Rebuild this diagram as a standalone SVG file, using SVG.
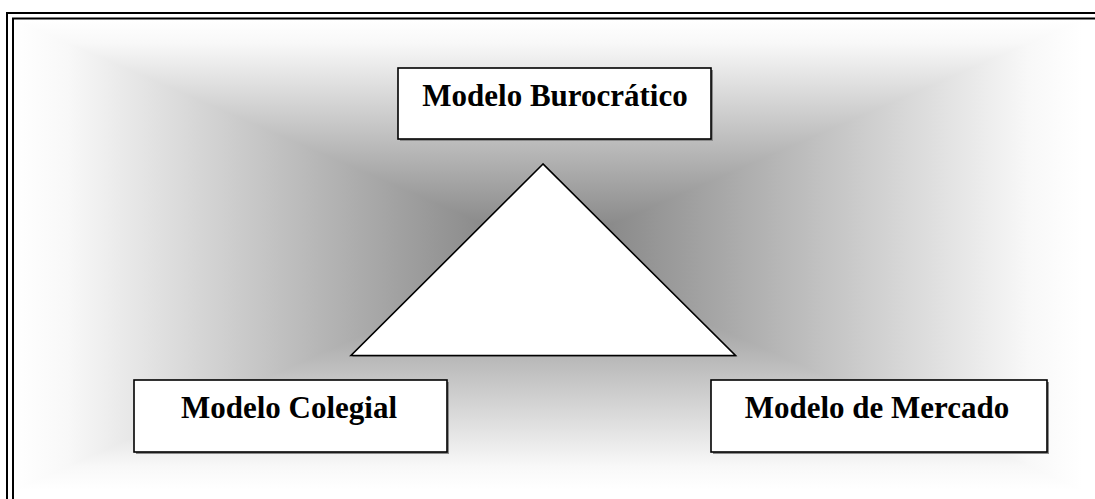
<svg xmlns="http://www.w3.org/2000/svg" width="1095" height="499" viewBox="0 0 1095 499">
  <style>
    .frame { fill: none; stroke: #000; stroke-width: 2; }
    .box { fill: #fff; stroke: #000; stroke-width: 1.6; }
    .shadow { fill: #8a8a8a; }
    .label { font-family: "Liberation Serif", "Times New Roman", serif; font-weight: bold; font-size: 31px; fill: #000; text-anchor: middle; }
    .shade { shape-rendering: crispEdges; }
  </style>
  <defs>
    <!-- rectangular "from centre" shading built from four wedges -->
    <linearGradient id="gTop" gradientUnits="userSpaceOnUse" x1="0" y1="252" x2="0" y2="20">
      <stop offset="0" stop-color="#7a7a7a"/>
      <stop offset="0.9" stop-color="#f8f8f8"/>
      <stop offset="1" stop-color="#ffffff"/>
    </linearGradient>
    <linearGradient id="gBottom" gradientUnits="userSpaceOnUse" x1="0" y1="252" x2="0" y2="490">
      <stop offset="0" stop-color="#7a7a7a"/>
      <stop offset="0.9" stop-color="#f8f8f8"/>
      <stop offset="1" stop-color="#ffffff"/>
    </linearGradient>
    <linearGradient id="gLeft" gradientUnits="userSpaceOnUse" x1="548" y1="0" x2="15" y2="0">
      <stop offset="0" stop-color="#7a7a7a"/>
      <stop offset="0.9" stop-color="#f8f8f8"/>
      <stop offset="1" stop-color="#ffffff"/>
    </linearGradient>
    <linearGradient id="gRight" gradientUnits="userSpaceOnUse" x1="548" y1="0" x2="1082" y2="0">
      <stop offset="0" stop-color="#7a7a7a"/>
      <stop offset="0.9" stop-color="#f8f8f8"/>
      <stop offset="1" stop-color="#ffffff"/>
    </linearGradient>
  </defs>

  <rect x="0" y="0" width="1095" height="499" fill="#fff"/>

  <!-- background shading -->
  <g id="background">
    <polygon class="shade" points="15,20 1082,20 548,252" fill="url(#gTop)"/>
    <polygon class="shade" points="15,490 1082,490 548,252" fill="url(#gBottom)"/>
    <polygon class="shade" points="15,20 15,490 548,252" fill="url(#gLeft)"/>
    <polygon class="shade" points="1082,20 1082,490 548,252" fill="url(#gRight)"/>
  </g>

  <!-- double page frame (open at right and bottom) -->
  <g id="frame">
    <path class="frame" d="M7,499 V13 H1095"/>
    <path class="frame" d="M13,499 V18.5 H1095"/>
  </g>

  <!-- central triangle -->
  <g id="triangle">
    <polygon class="shadow" points="544,166 352,357 737,357"/>
    <polygon class="box" points="543,164 351,355.5 735.5,355.5" stroke-linejoin="miter"/>
  </g>

  <g id="node-burocratico">
    <rect class="shadow" x="400" y="70" width="313" height="71"/>
    <rect class="box" x="398" y="68" width="313" height="71"/>
    <text class="label" x="555" y="106">Modelo Burocrático</text>
  </g>

  <g id="node-colegial">
    <rect class="shadow" x="136" y="382" width="313" height="72"/>
    <rect class="box" x="134" y="380" width="313" height="72"/>
    <text class="label" x="289" y="418">Modelo Colegial</text>
  </g>

  <g id="node-mercado">
    <rect class="shadow" x="713" y="382" width="336" height="72"/>
    <rect class="box" x="711" y="380" width="336" height="72"/>
    <text class="label" x="877" y="418">Modelo de Mercado</text>
  </g>
</svg>
